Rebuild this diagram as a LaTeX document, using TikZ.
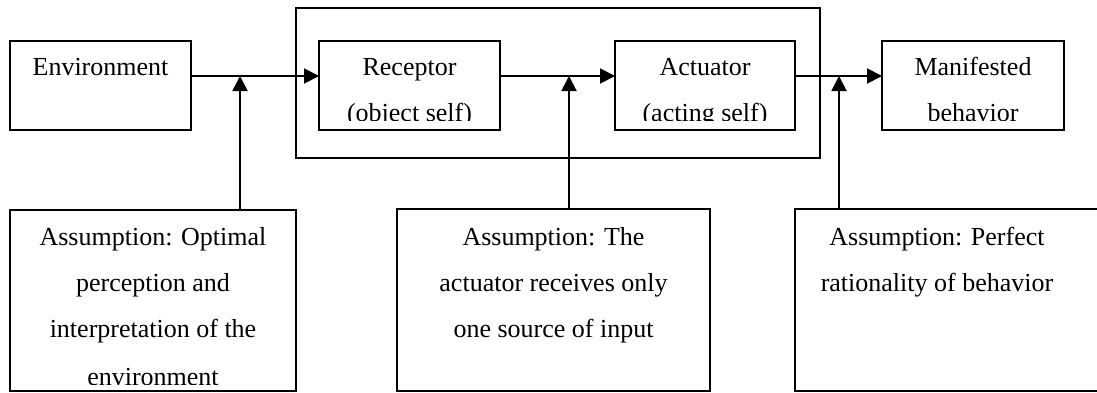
\documentclass[tikz,border=0pt]{standalone}
\usepackage{fontspec}
\setmainfont{Liberation Serif}
\usetikzlibrary{arrows.meta,calc}
\begin{document}
\begin{tikzpicture}[x=1pt,y=-1pt,
  box/.style={draw, line width=1.9pt, rectangle, inner sep=0pt, outer sep=0pt, anchor=north west},
  txt/.style={inner sep=0pt, anchor=base, font=\fontsize{26}{46}\selectfont},
  arr/.style={line width=1.9pt, -{Triangle[length=15pt,width=15pt]}}]
\useasboundingbox (0,0) rectangle (1097,392);
% outer box
\node[box, line width=2.6pt, minimum width=524pt, minimum height=150pt] (self) at (296,8) {};
% top boxes
\node[box, minimum width=181pt, minimum height=89pt] (env) at (10,41) {};
\node[box, minimum width=181pt, minimum height=89pt] (rec) at (319,41) {};
\node[box, minimum width=180pt, minimum height=89pt] (act) at (615,41) {};
\node[box, minimum width=182pt, minimum height=89pt] (man) at (882,41) {};
% bottom boxes
\node[box, minimum width=286pt, minimum height=181pt] (as1) at (10,210) {};
\node[box, minimum width=313pt, minimum height=182pt] (as2) at (397,209) {};
\node[box, minimum width=330pt, minimum height=182pt] (as3) at (795,209) {};
% texts
\node[txt] (envt) at (100.5,75) {Environment};
\begin{scope}
\clip (rec.north west) rectangle ($(rec.south east)+(0,-10)$);
\node[txt] (rect1) at (409.5,75) {Receptor};
\node[txt] (rect2) at (409.5,121) {(object self)};
\end{scope}
\begin{scope}
\clip (act.north west) rectangle ($(act.south east)+(0,-10)$);
\node[txt] (actt1) at (705,75) {Actuator};
\node[txt] (actt2) at (705,121) {(acting self)};
\end{scope}
\begin{scope}
\clip (man.north west) rectangle ($(man.south east)+(0,-10)$);
\node[txt] (mant1) at (973,75) {Manifested};
\node[txt] (mant2) at (973,121) {behavior};
\end{scope}
\begin{scope}
\clip (as1.north west) rectangle ($(as1.south east)+(0,-7)$);
\node[txt] (a1l1) at (153,245) {Assumption: Optimal};
\node[txt] (a1l2) at (153,291) {perception and};
\node[txt] (a1l3) at (153,337) {interpretation of the};
\node[txt] (a1l4) at (153,385.5) {environment};
\end{scope}
\node[txt] (a2l1) at (553.5,245) {Assumption: The};
\node[txt] (a2l2) at (553.5,291) {actuator receives only};
\node[txt] (a2l3) at (553.5,337) {one source of input};
\node[txt] (a3l1) at (937,245) {Assumption: Perfect};
\node[txt] (a3l2) at (937,291) {rationality of behavior};
% connector coordinates
\coordinate (ay) at (0,76);
\coordinate (v1) at (240,76);
\coordinate (v2) at (569,76);
\coordinate (v3) at (839,76);
% horizontal arrows
\draw[arr] (env.east |- ay) -- (rec.west |- ay);
\draw[arr] (rec.east |- ay) -- (act.west |- ay);
\draw[arr] (act.east |- ay) -- (man.west |- ay);
% vertical arrows
\draw[arr] (v1 |- as1.north) -- (v1);
\draw[arr] (v2 |- as2.north) -- (v2);
\draw[arr] (v3 |- as3.north) -- (v3);
\end{tikzpicture}
\end{document}
